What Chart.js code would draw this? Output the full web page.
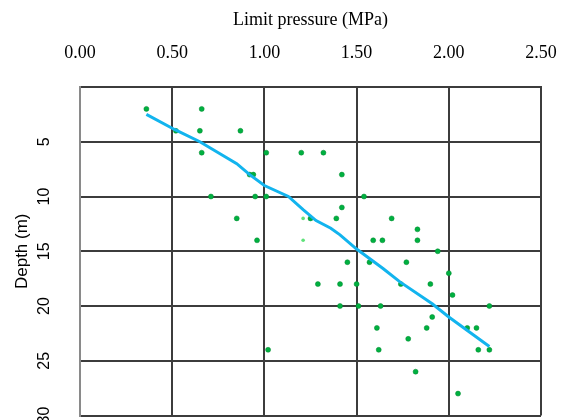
<!DOCTYPE html>
<html>
<head>
<meta charset="utf-8">
<script src="https://cdn.jsdelivr.net/npm/chart.js@4/dist/chart.umd.min.js"></script>
<style>
  body { margin: 0; background: #fff; }
  .chart-wrapper { width: 563px; height: 420px; position: relative; }
</style>
</head>
<body>
<div class="chart-wrapper"><canvas id="depthChart"></canvas></div>
<script>
// measured points: limit pressure (MPa) vs depth (m)
const pointPressure = [0.36, 0.66, 0.52, 0.65, 0.87, 0.66, 1.01, 1.20, 1.32, 0.92, 0.94, 1.42,
  0.71, 0.95, 1.01, 1.54, 1.42, 0.85, 1.25, 1.39, 1.69, 1.83, 0.96, 1.59, 1.64, 1.83, 1.94,
  1.45, 1.57, 1.77, 2.00, 1.29, 1.41, 1.50, 1.74, 1.90, 2.02, 1.41, 1.51, 1.63, 2.22, 1.91,
  1.61, 1.88, 2.10, 2.15, 1.78, 1.02, 1.62, 2.16, 2.22, 1.82, 2.05];
const pointDepth = [2, 2, 4, 4, 4, 6, 6, 6, 6, 8, 8, 8,
  10, 10, 10, 10, 11, 12, 12, 12, 12, 13, 14, 14, 14, 14, 15,
  16, 16, 16, 17, 18, 18, 18, 18, 18, 19, 20, 20, 20, 20, 21,
  22, 22, 22, 22, 23, 24, 24, 24, 24, 26, 28];

// faint points
const faintPressure = [1.21, 1.21];
const faintDepth = [12, 14];

// trend line
const trendPressure = [0.36, 0.515, 0.65, 0.85, 0.92, 1.0, 1.13, 1.21, 1.28, 1.36, 1.41, 1.50, 1.645, 1.735, 1.91, 2.0, 2.22];
const trendDepth = [2.5, 3.9, 5, 7, 8, 9, 10, 11.2, 12.2, 12.9, 13.5, 14.8, 16.6, 17.8, 19.8, 21, 23.7];

const xTickValues = [0, 0.5, 1, 1.5, 2, 2.5];
const xTickLabels = ['0.00', '0.50', '1.00', '1.50', '2.00', '2.50'];
const yTickValues = [0, 5, 10, 15, 20, 25, 30];
const yTickLabels = ['', '5', '10', '15', '20', '25', '30'];

function toXY(xs, ys) {
  return xs.map((x, i) => ({ x, y: ys[i] }));
}

function clearPadding(scale) {
  scale.paddingLeft = 0;
  scale.paddingRight = 0;
  scale.paddingTop = 0;
  scale.paddingBottom = 0;
}

const gridColor = '#3c3c3c';

new Chart(document.getElementById('depthChart').getContext('2d'), {
  type: 'scatter',
  data: {
    datasets: [
      {
        label: 'trend',
        data: toXY(trendPressure, trendDepth),
        showLine: true,
        borderColor: '#12b4ee',
        borderWidth: 3,
        pointRadius: 0,
        tension: 0,
      },
      {
        label: 'measured',
        data: toXY(pointPressure, pointDepth),
        backgroundColor: '#00b040',
        borderColor: '#008a30',
        borderWidth: 0.5,
        pointRadius: 2.5,
      },
      {
        label: 'faint',
        data: toXY(faintPressure, faintDepth),
        backgroundColor: '#5fe27a',
        borderWidth: 0,
        pointRadius: 1.8,
      },
    ],
  },
  options: {
    responsive: true,
    maintainAspectRatio: false,
    animation: false,
    layout: { padding: { top: 0, left: 0, right: 22, bottom: 2 } },
    plugins: {
      legend: { display: false },
      tooltip: { enabled: false },
    },
    scales: {
      x: {
        type: 'linear',
        position: 'top',
        min: 0,
        max: 2.5,
        afterBuildTicks: scale => {
          scale.ticks = xTickValues.map(value => ({ value }));
        },
        afterFit: scale => {
          scale.height = 87;
          clearPadding(scale);
        },
        grid: { color: gridColor, lineWidth: 2, drawTicks: false },
        border: { color: gridColor, width: 2 },
        ticks: {
          padding: 23,
          color: '#000',
          font: { family: 'Liberation Serif', size: 18 },
          callback: (v, i) => xTickLabels[i],
        },
        title: {
          display: true,
          text: 'Limit pressure (MPa)',
          color: '#000',
          font: { family: 'Liberation Serif', size: 18 },
          padding: { top: 9, bottom: 0 },
        },
      },
      y: {
        type: 'linear',
        reverse: true,
        min: 0,
        max: 30,
        afterBuildTicks: scale => {
          scale.ticks = yTickValues.map(value => ({ value }));
        },
        afterFit: scale => {
          scale.width = 80;
          clearPadding(scale);
        },
        grid: { color: gridColor, lineWidth: 2, drawTicks: false },
        border: { color: '#8a8a8a', width: 2 },
        ticks: {
          autoSkip: false,
          minRotation: 90,
          maxRotation: 90,
          crossAlign: 'center',
          padding: 27,
          color: '#000',
          font: { family: 'Liberation Sans', size: 16 },
          callback: (v, i) => yTickLabels[i],
        },
        title: {
          display: true,
          text: 'Depth (m)',
          color: '#000',
          font: { family: 'Liberation Sans', size: 17 },
          padding: { top: 12, bottom: 0 },
        },
      },
    },
  },
});
</script>
</body>
</html>
